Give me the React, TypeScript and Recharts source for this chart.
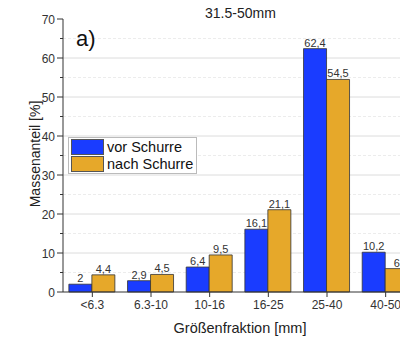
import React from 'react';
import { BarChart, Bar, XAxis, YAxis, CartesianGrid, LabelList } from 'recharts';

const categories = ['<6.3', '6.3-10', '10-16', '16-25', '25-40', '40-50'];
const vorSchurre = [2, 2.9, 6.4, 16.1, 62.4, 10.2];
const nachSchurre = [4.4, 4.5, 9.5, 21.1, 54.5, 6.0];
const seriesNames = ['vor Schurre', 'nach Schurre'];
const yTicks = [0, 5, 10, 15, 20, 25, 30, 35, 40, 45, 50, 55, 60, 65, 70];
const majorTicks = [10, 20, 30, 40, 50, 60];
const minorTicks = [5, 15, 25, 35, 45, 55, 65];

const data = categories.map((c, i) => ({ cat: c, vor: vorSchurre[i], nach: nachSchurre[i] }));

const BLUE = '#1a3cff';
const ORANGE = '#e6a82a';
const FONT = '"Liberation Sans", Arial, sans-serif';

const fmt = (v: any) => String(v).replace('.', ',');

const YTick = (props: any) => {
  const { x, y, payload } = props;
  const v = payload.value;
  const major = v % 10 === 0;
  return (
    <g>
      <line x1={x - (major ? 6 : 3)} x2={x} y1={y} y2={y} stroke="#333" strokeWidth={1} />
      {major && (
        <text x={x - 8} y={y} dy={4.5} textAnchor="end" fill="#333" fontSize={12} fontFamily={FONT}>
          {v}
        </text>
      )}
    </g>
  );
};

export default function App() {
  return (
    <div style={{ position: 'fixed', left: 0, top: 0, width: 400, height: 340, overflow: 'hidden', background: '#fff', fontFamily: FONT }}>
      <BarChart
        width={430}
        height={340}
        data={data}
        margin={{ top: 19, right: 15, bottom: 0, left: 0 }}
        barCategoryGap="10%"
        barGap={0}
      >
        <CartesianGrid vertical={false} horizontalValues={minorTicks} stroke="#ececec" strokeDasharray="3 2" />
        <CartesianGrid vertical={false} horizontalValues={majorTicks} stroke="#dcdcdc" />
        <XAxis
          dataKey="cat"
          height={48}
          tickSize={5}
          tickMargin={3}
          stroke="#333"
          tick={{ fill: '#333', fontSize: 12, fontFamily: FONT }}
        />
        <YAxis
          width={63}
          domain={[0, 70]}
          ticks={yTicks}
          interval={0}
          tickSize={0}
          tickMargin={0}
          tickLine={false}
          stroke="#333"
          tick={<YTick />}
        />
        <Bar dataKey="vor" name={seriesNames[0]} fill={BLUE} stroke="#333" strokeWidth={0.8} isAnimationActive={false}>
          <LabelList dataKey="vor" position="top" offset={2} formatter={fmt} fill="#333" fontSize={11} fontFamily={FONT} />
        </Bar>
        <Bar dataKey="nach" name={seriesNames[1]} fill={ORANGE} stroke="#333" strokeWidth={0.8} isAnimationActive={false}>
          <LabelList dataKey="nach" position="top" offset={2} formatter={fmt} fill="#333" fontSize={11} fontFamily={FONT} />
        </Bar>
      </BarChart>
      <div style={{ position: 'absolute', left: 205, top: 5, fontSize: 14, color: '#222' }}>31.5-50mm</div>
      <div style={{ position: 'absolute', left: 76, top: 26, fontSize: 22, color: '#111' }}>a)</div>
      <div
        style={{
          position: 'absolute',
          left: 35,
          top: 154,
          transform: 'translate(-50%, -50%) rotate(-90deg)',
          fontSize: 14,
          color: '#222',
          whiteSpace: 'nowrap',
        }}
      >
        Massenanteil [%]
      </div>
      <div
        style={{
          position: 'absolute',
          left: 240,
          top: 328,
          transform: 'translate(-50%, -50%)',
          fontSize: 14.5,
          color: '#222',
          whiteSpace: 'nowrap',
        }}
      >
        Größenfraktion [mm]
      </div>
      <div
        style={{
          position: 'absolute',
          left: 68,
          top: 137,
          width: 129,
          height: 37,
          border: '1px solid #bbb',
          background: '#fff',
          boxSizing: 'border-box',
          padding: '0px 2px',
        }}
      >
        {seriesNames.map((n, i) => (
          <div key={n} style={{ display: 'flex', alignItems: 'center', height: 17.5 }}>
            <div style={{ width: 33, height: 16, background: i === 0 ? BLUE : ORANGE, border: '1px solid #555', boxSizing: 'border-box' }} />
            <span style={{ marginLeft: 3, fontSize: 14.5, color: '#111', whiteSpace: 'nowrap' }}>{n}</span>
          </div>
        ))}
      </div>
    </div>
  );
}
